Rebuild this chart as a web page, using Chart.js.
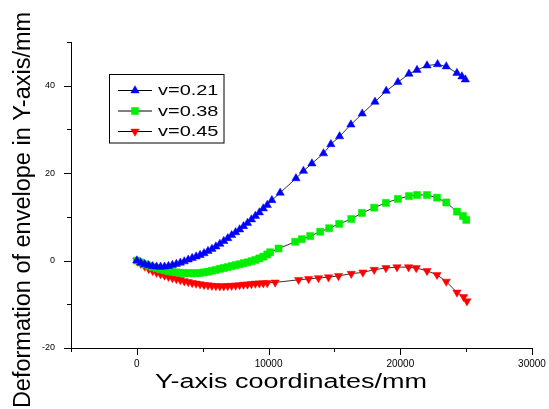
<!DOCTYPE html>
<html>
<head>
<meta charset="utf-8">
<script src="https://cdn.jsdelivr.net/npm/chart.js@4.4.1/dist/chart.umd.min.js"></script>
<style>
html,body{margin:0;padding:0;background:#fff;}
#wrap{width:549px;height:409px;}
</style>
</head>
<body>
<div id="wrap"><canvas id="c" width="549" height="409"></canvas></div>
<script>
// ---- data ----
const seriesNames = ["v=0.21", "v=0.38", "v=0.45"];
const xTickLabels = ["0", "10000", "20000", "30000"];
const yTickLabels = ["-20", "0", "20", "40"];

const blueX = [0,300,600,900,1200,1500,1800,2100,2400,2700,3000,3300,3600,3900,4200,4500,4800,5100,5400,5700,6000,6300,6600,6900,7200,7500,7800,8100,8400,8700,9000,9300,9600,9900,10250,10880,12080,12650,13290,14170,14730,15390,16250,17110,18080,18930,19820,20660,21270,22030,22830,23490,24300,24680,24940];
const blueY = [0,-0.5,-0.85,-1.1,-1.3,-1.4,-1.45,-1.4,-1.25,-1.05,-0.8,-0.5,-0.2,0.2,0.55,0.9,1.25,1.65,2.15,2.65,3.2,3.8,4.45,5.1,5.8,6.45,7.1,7.85,8.6,9.4,10.2,11.0,11.9,12.7,13.8,15.5,18.8,20.5,22.2,24.5,26.6,28.4,31.1,33.6,36.3,38.8,40.8,42.7,43.6,44.6,44.9,44.4,42.9,42.1,41.4];

const greenX = [0,300,600,900,1200,1500,1800,2100,2400,2700,3000,3300,3600,3900,4200,4500,4800,5100,5400,5700,6000,6300,6600,6900,7200,7500,7800,8100,8400,8700,9000,9300,9600,9900,10120,10760,12020,12530,13160,13920,14600,15360,16280,17090,18020,18910,19820,20660,21270,22030,22790,23490,24300,24760,25010];
const greenY = [0,-0.45,-0.85,-1.2,-1.5,-1.75,-2.0,-2.25,-2.45,-2.6,-2.7,-2.8,-2.85,-2.9,-2.9,-2.9,-2.85,-2.7,-2.55,-2.35,-2.15,-1.9,-1.7,-1.5,-1.25,-1.05,-0.85,-0.6,-0.4,-0.15,0.15,0.5,0.9,1.4,1.9,2.75,4.3,4.9,5.6,6.6,7.4,8.4,9.5,10.9,12.1,13.2,14.1,14.75,15.0,15.0,14.4,13.3,11.2,10.2,9.3];

const redX = [0,300,600,900,1200,1500,1800,2100,2400,2700,3000,3300,3600,3900,4200,4500,4800,5100,5400,5700,6000,6300,6600,6900,7200,7500,7800,8100,8400,8700,9000,9300,9600,9900,10500,12280,13040,13790,14550,15310,16280,17160,18020,18910,19750,20630,21210,22030,22790,23490,24300,24810,25060];
const redY = [0,-0.7,-1.35,-1.9,-2.35,-2.75,-3.1,-3.4,-3.7,-3.95,-4.2,-4.45,-4.7,-4.9,-5.1,-5.25,-5.4,-5.55,-5.65,-5.75,-5.8,-5.85,-5.85,-5.8,-5.75,-5.7,-5.6,-5.5,-5.45,-5.35,-5.25,-5.2,-5.15,-5.1,-5.0,-4.4,-4.2,-4.0,-3.8,-3.5,-3.0,-2.7,-2.1,-1.7,-1.5,-1.5,-1.7,-2.35,-3.26,-4.8,-7.3,-8.3,-9.3];

const seriesX = [blueX, greenX, redX];
const seriesY = [blueY, greenY, redY];
const colors = ["#0000ff", "#00ee00", "#ff0000"];
const shapes = ["triangle", "rect", "triangle"];
const rotations = [0, 0, 180];
const radii = [4.8, 5, 4.8];

const xMajor = [0, 10000, 20000, 30000];
const xMinor = [-5000, 5000, 15000, 25000];
const yMajor = [-20, 0, 20, 40];
const yMinor = [-10, 10, 30, 50];

const datasets = seriesNames.map((name, i) => ({
  label: name,
  data: seriesX[i].map((x, k) => ({x: x, y: seriesY[i][k]})),
  borderColor: "#333333",
  borderWidth: 1,
  backgroundColor: colors[i],
  pointBackgroundColor: colors[i],
  pointBorderColor: colors[i],
  pointBorderWidth: 0.5,
  pointStyle: shapes[i],
  pointRotation: rotations[i],
  pointRadius: radii[i],
  pointHoverRadius: radii[i],
  tension: 0,
  fill: false
}));

function drawStretchedText(ctx, text, x, y, font, sx, align) {
  ctx.save();
  ctx.font = font;
  ctx.fillStyle = "#000";
  ctx.textBaseline = "alphabetic";
  const w = ctx.measureText(text).width * sx;
  let left = x;
  if (align === "center") left = x - w / 2;
  ctx.translate(left, y);
  ctx.scale(sx, 1);
  ctx.textAlign = "left";
  ctx.fillText(text, 0, 0);
  ctx.restore();
}

const decor = {
  id: "decor",
  afterDraw(chart) {
    const ctx = chart.ctx;
    const xs = chart.scales.x, ys = chart.scales.y;
    const bottom = chart.chartArea.bottom, left = chart.chartArea.left;
    ctx.save();
    ctx.strokeStyle = "#000";
    ctx.lineWidth = 1;
    ctx.beginPath();
    xMajor.forEach(v => { const p = Math.round(xs.getPixelForValue(v)) + 0.5; ctx.moveTo(p, bottom); ctx.lineTo(p, bottom + 7); });
    xMinor.forEach(v => { const p = Math.round(xs.getPixelForValue(v)) + 0.5; ctx.moveTo(p, bottom); ctx.lineTo(p, bottom + 4); });
    yMajor.forEach(v => { const p = Math.round(ys.getPixelForValue(v)) + 0.5; ctx.moveTo(left, p); ctx.lineTo(left - 7, p); });
    yMinor.forEach(v => { const p = Math.round(ys.getPixelForValue(v)) + 0.5; ctx.moveTo(left, p); ctx.lineTo(left - 4, p); });
    ctx.stroke();

    // axis titles
    drawStretchedText(ctx, "Y-axis coordinates/mm", 291, 388, "20px 'Liberation Sans', Arial, sans-serif", 1.35, "center");
    ctx.save();
    ctx.translate(30, 210);
    ctx.rotate(-Math.PI / 2);
    ctx.font = "23.5px 'Liberation Sans', Arial, sans-serif";
    ctx.fillStyle = "#000";
    ctx.textAlign = "center";
    ctx.textBaseline = "alphabetic";
    ctx.fillText("Deformation of envelope in Y-axis/mm", 0, 0);
    ctx.restore();

    // legend
    ctx.strokeStyle = "#000";
    ctx.lineWidth = 1;
    ctx.strokeRect(109.5, 74.5, 114.5, 68.5);
    const rows = [90, 110.5, 131];
    seriesNames.forEach((name, i) => {
      const y = rows[i];
      ctx.beginPath();
      ctx.strokeStyle = "#000";
      ctx.lineWidth = 1;
      ctx.moveTo(118, y + 0.5); ctx.lineTo(152, y + 0.5);
      ctx.stroke();
      ctx.fillStyle = colors[i];
      ctx.strokeStyle = colors[i];
      ctx.lineWidth = 0.5;
      Chart.helpers.drawPoint(ctx, {pointStyle: shapes[i], rotation: rotations[i], radius: radii[i], borderWidth: 0.5}, 135, y + 0.5);
      drawStretchedText(ctx, name, 158, y + 5, "15px 'Liberation Sans', Arial, sans-serif", 1.33, "left");
    });
    ctx.restore();
  }
};

new Chart(document.getElementById("c"), {
  type: "line",
  data: { datasets: datasets },
  options: {
    responsive: false,
    animation: false,
    devicePixelRatio: 1,
    layout: { padding: { left: 0, top: 42, right: 17, bottom: 0 } },
    plugins: { legend: { display: false }, tooltip: { enabled: false } },
    scales: {
      x: {
        type: "linear",
        min: -5000, max: 30000,
        afterFit(s) { s.height = 61; s.paddingLeft = 0; s.paddingRight = 0; },
        afterBuildTicks(s) { s.ticks = xMajor.map(v => ({value: v})); },
        grid: { display: true, drawOnChartArea: false, drawTicks: false },
        border: { display: true, color: "#000", width: 1 },
        ticks: {
          padding: 10,
          color: "#000",
          font: { family: "'Liberation Sans', Arial, sans-serif", size: 10 },
          maxRotation: 0,
          callback: (v) => { const i = xMajor.indexOf(v); return i >= 0 ? xTickLabels[i] : ""; }
        }
      },
      y: {
        type: "linear",
        min: -20, max: 50,
        afterFit(s) { s.width = 71; s.paddingTop = 0; s.paddingBottom = 0; },
        afterBuildTicks(s) { s.ticks = yMajor.map(v => ({value: v})); },
        grid: { display: true, drawOnChartArea: false, drawTicks: false },
        border: { display: true, color: "#000", width: 1 },
        ticks: {
          padding: 16,
          color: "#000",
          font: { family: "'Liberation Sans', Arial, sans-serif", size: 9 },
          callback: (v) => { const i = yMajor.indexOf(v); return i >= 0 ? yTickLabels[i] : ""; }
        }
      }
    }
  },
  plugins: [decor]
});
</script>
</body>
</html>
